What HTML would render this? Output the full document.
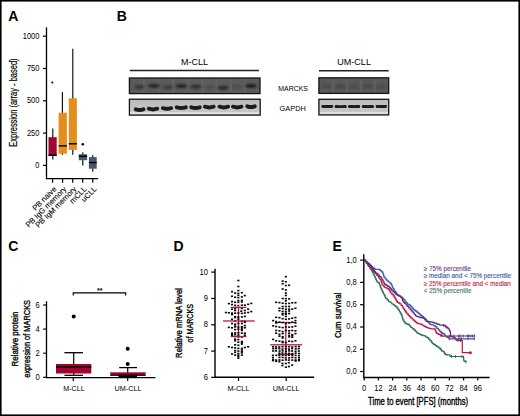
<!DOCTYPE html>
<html><head><meta charset="utf-8">
<style>
html,body{margin:0;padding:0;background:#fff;}
body{width:520px;height:416px;overflow:hidden;position:relative;}
svg{display:block;position:absolute;left:0;top:0;}
text{font-family:"Liberation Sans",sans-serif;}
.sb{stroke:#000;stroke-width:0.35px;}
.sb2{stroke-width:0.12px;}
</style></head>
<body>
<svg width="520" height="416" viewBox="0 0 520 416">
<rect x="0" y="0" width="520" height="416" fill="#fff"/>
<!-- outer border -->
<rect x="0.8" y="0.8" width="518.4" height="414.4" fill="none" stroke="#000" stroke-width="1.6"/>

<!-- panel letters -->
<g font-weight="bold" font-size="14" fill="#000">
<text x="8.2" y="20.9">A</text>
<text x="116.8" y="20.9">B</text>
<text x="8.2" y="251">C</text>
<text x="173.5" y="250.8">D</text>
<text x="332.6" y="250.7">E</text>
</g>

<!-- ===== Panel A ===== -->
<g id="pA">
<line x1="46.5" y1="27.3" x2="46.5" y2="179.2" stroke="#000" stroke-width="1.3"/>
<line x1="45.9" y1="178.6" x2="98.2" y2="178.6" stroke="#000" stroke-width="1.3"/>
<g stroke="#000" stroke-width="1.2">
<line x1="43" y1="36.2" x2="46.5" y2="36.2"/>
<line x1="43" y1="68.5" x2="46.5" y2="68.5"/>
<line x1="43" y1="100.8" x2="46.5" y2="100.8"/>
<line x1="43" y1="133.1" x2="46.5" y2="133.1"/>
<line x1="43" y1="165.4" x2="46.5" y2="165.4"/>
<line x1="52.6" y1="178.6" x2="52.6" y2="182.7"/>
<line x1="62.6" y1="178.6" x2="62.6" y2="182.7"/>
<line x1="72.7" y1="178.6" x2="72.7" y2="182.7"/>
<line x1="82.7" y1="178.6" x2="82.7" y2="182.7"/>
<line x1="92.8" y1="178.6" x2="92.8" y2="182.7"/>
</g>
<g font-size="8.3" text-anchor="end" fill="#000" transform="translate(39.4,0) scale(0.9,1) translate(-39.4,0)">
<text x="39.4" y="38.7">1000</text>
<text x="39.4" y="71">750</text>
<text x="39.4" y="103.3">500</text>
<text x="39.4" y="135.6">250</text>
<text x="39.4" y="167.9">0</text>
</g>
<text transform="translate(17,146.7) rotate(-90)" font-size="10" stroke="#000" stroke-width="0.18" textLength="88.3" lengthAdjust="spacingAndGlyphs">Expression (array - based)</text>
<!-- whiskers -->
<g stroke="#000" stroke-width="1.1">
<line x1="52.8" y1="128.5" x2="52.8" y2="159.5"/>
<line x1="62.4" y1="91.9" x2="62.4" y2="154.7"/>
<line x1="72.8" y1="48.7" x2="72.8" y2="154.7"/>
<line x1="82.8" y1="152.3" x2="82.8" y2="165.6"/>
<line x1="92.8" y1="155" x2="92.8" y2="171.8"/>
</g>
<!-- boxes -->
<rect x="48.5" y="137.2" width="8.2" height="18.7" fill="#a3032f"/>
<rect x="58.6" y="112.7" width="8.3" height="41" fill="#e38e1e"/>
<rect x="68.8" y="98.3" width="8.1" height="51.6" fill="#e38e1e"/>
<rect x="78.8" y="154.2" width="8.3" height="6" fill="#4c5570"/>
<rect x="88.9" y="157.1" width="7.8" height="11.6" fill="#4c5570"/>
<!-- medians -->
<g stroke="#000" stroke-width="1.4">
<line x1="48.5" y1="155.2" x2="56.7" y2="155.2"/>
<line x1="58.6" y1="145.9" x2="66.9" y2="145.9"/>
<line x1="68.8" y1="143.8" x2="76.9" y2="143.8"/>
<line x1="78.8" y1="156.3" x2="87.1" y2="156.3"/>
<line x1="88.9" y1="162.6" x2="96.7" y2="162.6"/>
</g>
<circle cx="52.3" cy="82.4" r="1" fill="#000"/>
<circle cx="82.8" cy="144.2" r="1.3" fill="#000"/>
<!-- x labels -->
<g font-size="7.6" text-anchor="end" fill="#000" stroke="#000" stroke-width="0.1">
<text transform="translate(56.9,189.6) rotate(-45)">PB naive</text>
<text transform="translate(66.9,189.6) rotate(-45)">PB IgG memory</text>
<text transform="translate(77,189.6) rotate(-45)">PB IgM memory</text>
<text transform="translate(87,189.6) rotate(-45)">mCLL</text>
<text transform="translate(97.1,189.6) rotate(-45)">uCLL</text>
</g>
</g>

<!-- ===== Panel B ===== -->
<g id="pB">
<text x="181" y="64.9" font-size="9.2" textLength="27" lengthAdjust="spacingAndGlyphs">M-CLL</text>
<text x="337.3" y="65.2" font-size="9.2" textLength="33.6" lengthAdjust="spacingAndGlyphs">UM-CLL</text>
<line x1="129.8" y1="70.6" x2="258.9" y2="70.6" stroke="#222" stroke-width="1.5"/>
<line x1="319" y1="70.8" x2="388.7" y2="70.8" stroke="#222" stroke-width="1.5"/>
<text x="278.2" y="90.6" font-size="7.6" textLength="29.8" lengthAdjust="spacingAndGlyphs">MARCKS</text>
<text x="279.6" y="111.3" font-size="7.6" textLength="26.2" lengthAdjust="spacingAndGlyphs">GAPDH</text>
<g id="blots"><defs><filter id="bl1" x="-20%" y="-60%" width="140%" height="220%"><feGaussianBlur stdDeviation="0.85"/></filter><filter id="bl2" x="-20%" y="-60%" width="140%" height="220%"><feGaussianBlur stdDeviation="0.65"/></filter><filter id="bl3" x="-5%" y="-5%" width="110%" height="110%"><feGaussianBlur stdDeviation="0.6"/></filter><linearGradient id="gg" x1="0" y1="0" x2="0" y2="1"><stop offset="0" stop-color="#bcbcbc"/><stop offset="1" stop-color="#c8c8c8"/></linearGradient></defs>
<rect x="129.4" y="78.0" width="130.6" height="15.599999999999994" fill="#5b5b5b"/>
<g filter="url(#bl3)" fill="#7a7a7a" opacity="0.35"><rect x="143.1" y="79.5" width="1.6" height="12.599999999999994"/><rect x="157.6" y="79.5" width="1.6" height="12.599999999999994"/><rect x="172.1" y="79.5" width="1.6" height="12.599999999999994"/><rect x="186.6" y="79.5" width="1.6" height="12.599999999999994"/><rect x="201.2" y="79.5" width="1.6" height="12.599999999999994"/><rect x="215.7" y="79.5" width="1.6" height="12.599999999999994"/><rect x="230.2" y="79.5" width="1.6" height="12.599999999999994"/><rect x="244.7" y="79.5" width="1.6" height="12.599999999999994"/></g>
<g filter="url(#bl1)" fill="#1c1c1c"><ellipse cx="139.5" cy="87" rx="5.2" ry="1.9" opacity="0.55"/><ellipse cx="154" cy="85.9" rx="6" ry="1.9" opacity="0.9"/><ellipse cx="168" cy="87.2" rx="5" ry="1.9" opacity="0.5"/><ellipse cx="181.5" cy="86" rx="6" ry="1.9" opacity="0.9"/><ellipse cx="196" cy="86.6" rx="5.6" ry="1.9" opacity="0.75"/><ellipse cx="210" cy="87" rx="5" ry="1.9" opacity="0.15"/><ellipse cx="223" cy="87.6" rx="5.6" ry="1.9" opacity="0.85"/><ellipse cx="237" cy="87" rx="5" ry="1.9" opacity="0.22"/><ellipse cx="251" cy="86" rx="6" ry="1.9" opacity="1.0"/></g>
<rect x="129.4" y="78.0" width="130.6" height="15.599999999999994" fill="none" stroke="#151515" stroke-width="1.3"/>
<rect x="129.4" y="99.2" width="130.79999999999998" height="15.899999999999991" fill="url(#gg)"/>
<rect x="129.4" y="112.1" width="130.79999999999998" height="2.2" fill="#dedede" filter="url(#bl3)"/>
<g filter="url(#bl2)" fill="#1c1c1c"><path d="M135.8,109.4 Q139.6,110.8 143.4,109.4" fill="none" stroke="#1c1c1c" stroke-width="4.0" stroke-linecap="round"/><path d="M148.8,108.7 Q153.0,110.1 157.2,108.7" fill="none" stroke="#1c1c1c" stroke-width="4.0" stroke-linecap="round"/><path d="M162.9,108.2 Q167.0,109.5 171.1,108.2" fill="none" stroke="#1c1c1c" stroke-width="4.0" stroke-linecap="round"/><path d="M176.8,107.3 Q181.3,108.7 185.8,107.3" fill="none" stroke="#1c1c1c" stroke-width="4.0" stroke-linecap="round"/><path d="M191.3,107.4 Q195.5,108.7 199.7,107.4" fill="none" stroke="#1c1c1c" stroke-width="4.0" stroke-linecap="round"/><path d="M205.0,106.7 Q209.3,108.1 213.6,106.7" fill="none" stroke="#1c1c1c" stroke-width="4.0" stroke-linecap="round"/><path d="M219.5,106.7 Q223.8,108.1 228.1,106.7" fill="none" stroke="#1c1c1c" stroke-width="4.0" stroke-linecap="round"/><path d="M233.0,106.7 Q237.2,108.1 241.4,106.7" fill="none" stroke="#1c1c1c" stroke-width="4.0" stroke-linecap="round"/><path d="M247.3,106.3 Q251.0,107.7 254.7,106.3" fill="none" stroke="#1c1c1c" stroke-width="4.0" stroke-linecap="round"/></g>
<rect x="129.4" y="99.2" width="130.79999999999998" height="15.899999999999991" fill="none" stroke="#151515" stroke-width="1.3"/>
<rect x="318.9" y="77.8" width="69.80000000000001" height="15.600000000000009" fill="#585858"/>
<g filter="url(#bl3)" fill="#777" opacity="0.3"><rect x="332.1" y="79.3" width="1.6" height="12.600000000000009"/><rect x="346.0" y="79.3" width="1.6" height="12.600000000000009"/><rect x="360.0" y="79.3" width="1.6" height="12.600000000000009"/><rect x="373.9" y="79.3" width="1.6" height="12.600000000000009"/></g>
<g filter="url(#bl1)" fill="#2a2a2a"><ellipse cx="326.5" cy="86.3" rx="5" ry="1.8" opacity="0.35"/><ellipse cx="340.5" cy="86.3" rx="5" ry="1.8" opacity="0.45"/><ellipse cx="354" cy="86.5" rx="5" ry="1.8" opacity="0.3"/><ellipse cx="368" cy="86" rx="5" ry="1.8" opacity="0.45"/><ellipse cx="381.5" cy="86.5" rx="5" ry="1.8" opacity="0.3"/></g>
<rect x="318.9" y="77.8" width="69.80000000000001" height="15.600000000000009" fill="none" stroke="#151515" stroke-width="1.3"/>
<rect x="318.9" y="99.3" width="69.80000000000001" height="15.600000000000009" fill="url(#gg)"/>
<rect x="318.9" y="111.9" width="69.80000000000001" height="2.2" fill="#dedede" filter="url(#bl3)"/>
<g filter="url(#bl2)" fill="#1c1c1c"><path d="M323.4,106.3 Q327.3,107.7 331.2,106.3" fill="none" stroke="#1c1c1c" stroke-width="4.0" stroke-linecap="round"/><path d="M336.7,106.6 Q340.7,108.1 344.7,106.6" fill="none" stroke="#1c1c1c" stroke-width="4.0" stroke-linecap="round"/><path d="M350.1,106.4 Q354.1,107.9 358.1,106.4" fill="none" stroke="#1c1c1c" stroke-width="4.0" stroke-linecap="round"/><path d="M363.9,106.4 Q367.9,107.9 371.9,106.4" fill="none" stroke="#1c1c1c" stroke-width="4.0" stroke-linecap="round"/><path d="M377.6,106.3 Q381.3,107.8 385.0,106.3" fill="none" stroke="#1c1c1c" stroke-width="4.0" stroke-linecap="round"/></g>
<rect x="318.9" y="99.3" width="69.80000000000001" height="15.600000000000009" fill="none" stroke="#151515" stroke-width="1.3"/></g><!--endblots-->
</g>

<!-- ===== Panel C ===== -->
<g id="pC">
<line x1="46.5" y1="301.3" x2="46.5" y2="378.2" stroke="#000" stroke-width="1.3"/>
<line x1="45.9" y1="377.6" x2="155.5" y2="377.6" stroke="#000" stroke-width="1.3"/>
<g stroke="#000" stroke-width="1.2">
<line x1="43.2" y1="305" x2="46.5" y2="305"/>
<line x1="43.2" y1="329.1" x2="46.5" y2="329.1"/>
<line x1="43.2" y1="353.2" x2="46.5" y2="353.2"/>
<line x1="43.2" y1="377.3" x2="46.5" y2="377.3"/>
<line x1="73.3" y1="377.6" x2="73.3" y2="381"/>
<line x1="127.7" y1="377.6" x2="127.7" y2="381"/>
</g>
<g font-size="8.4" text-anchor="end" fill="#000" transform="translate(39.6,0) scale(0.9,1) translate(-39.6,0)">
<text x="39.6" y="307.6">6</text>
<text x="39.6" y="331.7">4</text>
<text x="39.6" y="355.8">2</text>
<text x="39.6" y="379.9">0</text>
</g>
<text class="sb" transform="translate(17.5,366.5) rotate(-90)" font-size="9.6" textLength="55" lengthAdjust="spacingAndGlyphs">Relative protein</text>
<text class="sb" transform="translate(29.5,377.7) rotate(-90)" font-size="9.6" textLength="77.7" lengthAdjust="spacingAndGlyphs">expression of MARCKS</text>
<!-- bracket -->
<path d="M73.3 295.5 V292.8 H125.6 V295.5" fill="none" stroke="#000" stroke-width="1.2"/>
<text x="99.7" y="292.6" font-size="7" font-weight="bold" text-anchor="middle">**</text>
<!-- M-CLL box -->
<line x1="73.7" y1="352.7" x2="73.7" y2="375.2" stroke="#000" stroke-width="1.2"/>
<line x1="64.4" y1="352.7" x2="83" y2="352.7" stroke="#000" stroke-width="1.3"/>
<rect x="56" y="364" width="35.3" height="9.5" fill="#a3032f"/>
<line x1="56" y1="367" x2="91.3" y2="367" stroke="#000" stroke-width="1.7"/>
<line x1="64.4" y1="375.3" x2="83" y2="375.3" stroke="#000" stroke-width="1.3"/>
<circle cx="73.7" cy="316.4" r="2" fill="#000"/>
<!-- UM-CLL box -->
<circle cx="127.7" cy="348.8" r="2" fill="#000"/>
<circle cx="127.7" cy="364" r="2" fill="#000"/>
<line x1="127.7" y1="367.6" x2="127.7" y2="376" stroke="#000" stroke-width="1.2"/>
<line x1="119.2" y1="367.6" x2="137" y2="367.6" stroke="#000" stroke-width="1.3"/>
<rect x="110.3" y="372.3" width="35.3" height="3.4" fill="#a3032f"/>
<rect x="118.5" y="374.7" width="18.5" height="2.8" fill="#000"/>
<line x1="110.3" y1="375.2" x2="145.6" y2="375.2" stroke="#000" stroke-width="1"/>
<g font-size="7.8" fill="#000">
<text x="63.2" y="390.8" textLength="21.6" lengthAdjust="spacingAndGlyphs">M-CLL</text>
<text x="114.6" y="390.8" textLength="26.9" lengthAdjust="spacingAndGlyphs">UM-CLL</text>
</g>
</g>

<!-- ===== Panel D ===== -->
<g id="pD">
<line x1="215" y1="268.7" x2="215" y2="378" stroke="#000" stroke-width="1.4"/>
<line x1="214.3" y1="377.3" x2="314.2" y2="377.3" stroke="#000" stroke-width="1.4"/>
<g stroke="#000" stroke-width="1.2">
<line x1="211.2" y1="272.1" x2="215" y2="272.1"/>
<line x1="211.2" y1="298.5" x2="215" y2="298.5"/>
<line x1="211.2" y1="324.8" x2="215" y2="324.8"/>
<line x1="211.2" y1="351.1" x2="215" y2="351.1"/>
<line x1="211.2" y1="377.4" x2="215" y2="377.4"/>
<line x1="238.5" y1="377.3" x2="238.5" y2="381"/>
<line x1="286.2" y1="377.3" x2="286.2" y2="381"/>
</g>
<g font-size="8.4" text-anchor="end" fill="#000" transform="translate(208,0) scale(0.9,1) translate(-208,0)">
<text x="208" y="274.9">10</text>
<text x="208" y="301.2">9</text>
<text x="208" y="327.5">8</text>
<text x="208" y="353.8">7</text>
<text x="208" y="380.1">6</text>
</g>
<text class="sb" transform="translate(181.7,357.9) rotate(-90)" font-size="9.4" textLength="69.8" lengthAdjust="spacingAndGlyphs">Relative mRNA level</text>
<text class="sb" transform="translate(193.4,342.5) rotate(-90)" font-size="9.4" textLength="38.5" lengthAdjust="spacingAndGlyphs">of MARCKS</text>
<g font-size="7.8" fill="#000">
<text x="227.5" y="390.6" textLength="22" lengthAdjust="spacingAndGlyphs">M-CLL</text>
<text x="272.7" y="390.6" textLength="26.8" lengthAdjust="spacingAndGlyphs">UM-CLL</text>
</g>
<g stroke="#b5173f" stroke-width="1.3">
<line x1="276" y1="322.5" x2="295.4" y2="322.5"/>
<line x1="278.5" y1="354.3" x2="293.8" y2="354.3"/>
<line x1="285.8" y1="322.5" x2="285.8" y2="354.3"/>
<line x1="238.5" y1="307.4" x2="238.5" y2="336.5"/>
</g>
<g id="dots" fill="#000"><rect x="237.3" y="279.7" width="2.1" height="1.6"/><rect x="237.3" y="285.7" width="2.1" height="1.6"/><rect x="237.3" y="289.8" width="2.1" height="1.6"/><rect x="231.0" y="290.9" width="2.1" height="1.6"/><rect x="234.1" y="292.3" width="2.1" height="1.6"/><rect x="237.3" y="292.6" width="2.1" height="1.6"/><rect x="240.8" y="291.9" width="2.1" height="1.6"/><rect x="237.3" y="294.5" width="2.1" height="1.6"/><rect x="231.0" y="295.5" width="2.1" height="1.6"/><rect x="234.1" y="296.5" width="2.1" height="1.6"/><rect x="237.3" y="296.8" width="2.1" height="1.6"/><rect x="240.8" y="296.1" width="2.1" height="1.6"/><rect x="243.8" y="294.8" width="2.1" height="1.6"/><rect x="237.3" y="299.7" width="2.1" height="1.6"/><rect x="240.8" y="299.6" width="2.1" height="1.6"/><rect x="231.0" y="300.8" width="2.1" height="1.6"/><rect x="234.1" y="301.5" width="2.1" height="1.6"/><rect x="237.3" y="301.5" width="2.1" height="1.6"/><rect x="240.8" y="301.2" width="2.1" height="1.6"/><rect x="227.8" y="302.8" width="2.1" height="1.6"/><rect x="231.0" y="303.7" width="2.1" height="1.6"/><rect x="234.1" y="304.6" width="2.1" height="1.6"/><rect x="237.3" y="304.8" width="2.1" height="1.6"/><rect x="240.8" y="304.4" width="2.1" height="1.6"/><rect x="243.8" y="304.4" width="2.1" height="1.6"/><rect x="247.1" y="303.5" width="2.1" height="1.6"/><rect x="250.2" y="302.6" width="2.1" height="1.6"/><rect x="231.0" y="308.4" width="2.1" height="1.6"/><rect x="234.1" y="307.9" width="2.1" height="1.6"/><rect x="240.8" y="307.7" width="2.1" height="1.6"/><rect x="247.1" y="308.4" width="2.1" height="1.6"/><rect x="234.1" y="309.7" width="2.1" height="1.6"/><rect x="240.2" y="310.4" width="2.1" height="1.6"/><rect x="243.8" y="309.7" width="2.1" height="1.6"/><rect x="224.8" y="311.7" width="2.1" height="1.6"/><rect x="227.8" y="312.0" width="2.1" height="1.6"/><rect x="231.0" y="312.4" width="2.1" height="1.6"/><rect x="231.0" y="313.7" width="2.1" height="1.6"/><rect x="234.1" y="312.4" width="2.1" height="1.6"/><rect x="237.3" y="312.2" width="2.1" height="1.6"/><rect x="240.8" y="312.6" width="2.1" height="1.6"/><rect x="243.8" y="312.2" width="2.1" height="1.6"/><rect x="247.1" y="311.7" width="2.1" height="1.6"/><rect x="250.2" y="310.8" width="2.1" height="1.6"/><rect x="234.1" y="315.8" width="2.1" height="1.6"/><rect x="234.1" y="316.8" width="2.1" height="1.6"/><rect x="237.3" y="316.2" width="2.1" height="1.6"/><rect x="240.8" y="316.2" width="2.1" height="1.6"/><rect x="243.8" y="315.6" width="2.1" height="1.6"/><rect x="231.0" y="318.5" width="2.1" height="1.6"/><rect x="237.3" y="318.3" width="2.1" height="1.6"/><rect x="234.1" y="320.2" width="2.1" height="1.6"/><rect x="240.8" y="320.5" width="2.1" height="1.6"/><rect x="243.8" y="320.5" width="2.1" height="1.6"/><rect x="243.8" y="321.5" width="2.1" height="1.6"/><rect x="231.0" y="322.7" width="2.1" height="1.6"/><rect x="234.1" y="323.4" width="2.1" height="1.6"/><rect x="237.3" y="322.7" width="2.1" height="1.6"/><rect x="240.8" y="322.7" width="2.1" height="1.6"/><rect x="234.1" y="325.2" width="2.1" height="1.6"/><rect x="243.8" y="324.8" width="2.1" height="1.6"/><rect x="227.8" y="326.6" width="2.1" height="1.6"/><rect x="231.0" y="327.0" width="2.1" height="1.6"/><rect x="234.1" y="326.1" width="2.1" height="1.6"/><rect x="237.3" y="326.3" width="2.1" height="1.6"/><rect x="240.8" y="325.9" width="2.1" height="1.6"/><rect x="240.8" y="327.2" width="2.1" height="1.6"/><rect x="243.8" y="327.0" width="2.1" height="1.6"/><rect x="234.1" y="328.8" width="2.1" height="1.6"/><rect x="237.3" y="328.4" width="2.1" height="1.6"/><rect x="240.8" y="328.5" width="2.1" height="1.6"/><rect x="240.8" y="329.7" width="2.1" height="1.6"/><rect x="231.0" y="332.4" width="2.1" height="1.6"/><rect x="234.1" y="332.0" width="2.1" height="1.6"/><rect x="237.3" y="332.0" width="2.1" height="1.6"/><rect x="240.8" y="332.4" width="2.1" height="1.6"/><rect x="243.8" y="332.4" width="2.1" height="1.6"/><rect x="231.0" y="333.7" width="2.1" height="1.6"/><rect x="231.0" y="334.8" width="2.1" height="1.6"/><rect x="234.1" y="333.7" width="2.1" height="1.6"/><rect x="243.8" y="334.4" width="2.1" height="1.6"/><rect x="237.3" y="334.2" width="2.1" height="1.6"/><rect x="234.1" y="335.7" width="2.1" height="1.6"/><rect x="237.3" y="336.2" width="2.1" height="1.6"/><rect x="240.8" y="336.2" width="2.1" height="1.6"/><rect x="234.1" y="338.4" width="2.1" height="1.6"/><rect x="234.1" y="339.9" width="2.1" height="1.6"/><rect x="237.3" y="338.8" width="2.1" height="1.6"/><rect x="237.3" y="341.4" width="2.1" height="1.6"/><rect x="240.8" y="340.7" width="2.1" height="1.6"/><rect x="240.8" y="342.0" width="2.1" height="1.6"/><rect x="240.8" y="343.3" width="2.1" height="1.6"/><rect x="234.1" y="344.0" width="2.1" height="1.6"/><rect x="237.3" y="344.5" width="2.1" height="1.6"/><rect x="227.8" y="346.0" width="2.1" height="1.6"/><rect x="231.0" y="346.7" width="2.1" height="1.6"/><rect x="234.1" y="347.1" width="2.1" height="1.6"/><rect x="237.3" y="347.6" width="2.1" height="1.6"/><rect x="240.8" y="347.6" width="2.1" height="1.6"/><rect x="243.8" y="346.7" width="2.1" height="1.6"/><rect x="247.1" y="346.0" width="2.1" height="1.6"/><rect x="234.1" y="349.8" width="2.1" height="1.6"/><rect x="237.3" y="350.3" width="2.1" height="1.6"/><rect x="240.8" y="349.2" width="2.1" height="1.6"/><rect x="240.8" y="350.7" width="2.1" height="1.6"/><rect x="234.1" y="351.6" width="2.1" height="1.6"/><rect x="240.8" y="352.1" width="2.1" height="1.6"/><rect x="231.0" y="353.2" width="2.1" height="1.6"/><rect x="237.3" y="352.7" width="2.1" height="1.6"/><rect x="234.1" y="354.3" width="2.1" height="1.6"/><rect x="237.3" y="354.3" width="2.1" height="1.6"/><rect x="240.8" y="354.3" width="2.1" height="1.6"/><rect x="237.3" y="355.8" width="2.1" height="1.6"/><rect x="237.3" y="357.3" width="2.1" height="1.6"/><rect x="284.8" y="275.9" width="2.1" height="1.6"/><rect x="281.6" y="280.3" width="2.1" height="1.6"/><rect x="284.8" y="281.0" width="2.1" height="1.6"/><rect x="281.6" y="282.9" width="2.1" height="1.6"/><rect x="284.8" y="284.7" width="2.1" height="1.6"/><rect x="288.1" y="284.5" width="2.1" height="1.6"/><rect x="281.6" y="288.2" width="2.1" height="1.6"/><rect x="284.8" y="289.2" width="2.1" height="1.6"/><rect x="284.8" y="292.3" width="2.1" height="1.6"/><rect x="284.8" y="294.7" width="2.1" height="1.6"/><rect x="281.6" y="297.7" width="2.1" height="1.6"/><rect x="284.8" y="297.9" width="2.1" height="1.6"/><rect x="288.1" y="298.1" width="2.1" height="1.6"/><rect x="284.8" y="300.0" width="2.1" height="1.6"/><rect x="275.1" y="301.5" width="2.1" height="1.6"/><rect x="278.4" y="301.8" width="2.1" height="1.6"/><rect x="281.6" y="302.4" width="2.1" height="1.6"/><rect x="284.8" y="302.8" width="2.1" height="1.6"/><rect x="288.1" y="302.6" width="2.1" height="1.6"/><rect x="291.2" y="302.0" width="2.1" height="1.6"/><rect x="294.4" y="301.9" width="2.1" height="1.6"/><rect x="281.6" y="305.7" width="2.1" height="1.6"/><rect x="284.8" y="305.7" width="2.1" height="1.6"/><rect x="288.1" y="305.7" width="2.1" height="1.6"/><rect x="278.4" y="307.5" width="2.1" height="1.6"/><rect x="281.6" y="307.8" width="2.1" height="1.6"/><rect x="284.8" y="308.4" width="2.1" height="1.6"/><rect x="288.1" y="308.4" width="2.1" height="1.6"/><rect x="291.2" y="308.3" width="2.1" height="1.6"/><rect x="294.4" y="307.5" width="2.1" height="1.6"/><rect x="278.4" y="309.9" width="2.1" height="1.6"/><rect x="281.6" y="310.6" width="2.1" height="1.6"/><rect x="284.8" y="310.6" width="2.1" height="1.6"/><rect x="288.1" y="310.2" width="2.1" height="1.6"/><rect x="281.6" y="312.7" width="2.1" height="1.6"/><rect x="281.6" y="314.0" width="2.1" height="1.6"/><rect x="284.8" y="312.4" width="2.1" height="1.6"/><rect x="284.8" y="313.4" width="2.1" height="1.6"/><rect x="288.1" y="312.7" width="2.1" height="1.6"/><rect x="284.8" y="315.6" width="2.1" height="1.6"/><rect x="275.1" y="316.5" width="2.1" height="1.6"/><rect x="278.4" y="316.9" width="2.1" height="1.6"/><rect x="281.6" y="317.9" width="2.1" height="1.6"/><rect x="284.8" y="318.5" width="2.1" height="1.6"/><rect x="288.1" y="318.1" width="2.1" height="1.6"/><rect x="291.2" y="317.4" width="2.1" height="1.6"/><rect x="294.4" y="316.7" width="2.1" height="1.6"/><rect x="272.1" y="319.8" width="2.1" height="1.6"/><rect x="275.1" y="320.8" width="2.1" height="1.6"/><rect x="275.1" y="322.1" width="2.1" height="1.6"/><rect x="278.4" y="321.4" width="2.1" height="1.6"/><rect x="281.6" y="321.7" width="2.1" height="1.6"/><rect x="284.8" y="322.8" width="2.1" height="1.6"/><rect x="288.1" y="322.1" width="2.1" height="1.6"/><rect x="291.2" y="321.4" width="2.1" height="1.6"/><rect x="294.4" y="319.8" width="2.1" height="1.6"/><rect x="294.4" y="322.1" width="2.1" height="1.6"/><rect x="272.1" y="325.0" width="2.1" height="1.6"/><rect x="275.1" y="325.7" width="2.1" height="1.6"/><rect x="278.4" y="326.3" width="2.1" height="1.6"/><rect x="281.6" y="326.8" width="2.1" height="1.6"/><rect x="284.8" y="326.1" width="2.1" height="1.6"/><rect x="288.1" y="326.4" width="2.1" height="1.6"/><rect x="291.2" y="326.1" width="2.1" height="1.6"/><rect x="294.4" y="325.4" width="2.1" height="1.6"/><rect x="275.1" y="329.7" width="2.1" height="1.6"/><rect x="278.4" y="330.0" width="2.1" height="1.6"/><rect x="281.6" y="330.8" width="2.1" height="1.6"/><rect x="284.8" y="329.7" width="2.1" height="1.6"/><rect x="288.1" y="330.0" width="2.1" height="1.6"/><rect x="291.2" y="329.7" width="2.1" height="1.6"/><rect x="294.4" y="330.0" width="2.1" height="1.6"/><rect x="275.1" y="332.4" width="2.1" height="1.6"/><rect x="281.6" y="332.8" width="2.1" height="1.6"/><rect x="288.1" y="332.4" width="2.1" height="1.6"/><rect x="294.4" y="332.8" width="2.1" height="1.6"/><rect x="278.4" y="333.5" width="2.1" height="1.6"/><rect x="291.2" y="333.9" width="2.1" height="1.6"/><rect x="278.4" y="335.3" width="2.1" height="1.6"/><rect x="281.6" y="336.0" width="2.1" height="1.6"/><rect x="281.6" y="337.2" width="2.1" height="1.6"/><rect x="288.1" y="334.6" width="2.1" height="1.6"/><rect x="288.1" y="336.0" width="2.1" height="1.6"/><rect x="291.2" y="335.0" width="2.1" height="1.6"/><rect x="291.2" y="336.4" width="2.1" height="1.6"/><rect x="272.1" y="338.6" width="2.1" height="1.6"/><rect x="275.1" y="340.0" width="2.1" height="1.6"/><rect x="278.4" y="340.4" width="2.1" height="1.6"/><rect x="281.6" y="340.7" width="2.1" height="1.6"/><rect x="281.6" y="341.8" width="2.1" height="1.6"/><rect x="288.1" y="340.4" width="2.1" height="1.6"/><rect x="291.2" y="340.7" width="2.1" height="1.6"/><rect x="294.4" y="340.0" width="2.1" height="1.6"/><rect x="284.8" y="341.7" width="2.1" height="1.6"/><rect x="271.9" y="359.8" width="2.1" height="1.6"/><rect x="275.1" y="360.5" width="2.1" height="1.6"/><rect x="278.3" y="360.9" width="2.1" height="1.6"/><rect x="294.6" y="360.2" width="2.1" height="1.6"/><rect x="297.9" y="359.8" width="2.1" height="1.6"/><rect x="281.4" y="362.6" width="2.1" height="1.6"/><rect x="284.8" y="362.7" width="2.1" height="1.6"/><rect x="287.8" y="361.9" width="2.1" height="1.6"/><rect x="291.1" y="364.3" width="2.1" height="1.6"/><rect x="281.4" y="364.7" width="2.1" height="1.6"/><rect x="284.8" y="366.4" width="2.1" height="1.6"/><rect x="287.8" y="365.7" width="2.1" height="1.6"/><rect x="272.0" y="346.0" width="2.1" height="1.6"/><rect x="275.0" y="346.2" width="2.1" height="1.6"/><rect x="278.2" y="346.2" width="2.1" height="1.6"/><rect x="281.5" y="345.9" width="2.1" height="1.6"/><rect x="284.8" y="345.7" width="2.1" height="1.6"/><rect x="288.0" y="345.9" width="2.1" height="1.6"/><rect x="291.2" y="346.2" width="2.1" height="1.6"/><rect x="294.6" y="345.9" width="2.1" height="1.6"/><rect x="297.9" y="345.7" width="2.1" height="1.6"/><rect x="272.2" y="347.9" width="2.1" height="1.6"/><rect x="275.1" y="347.8" width="2.1" height="1.6"/><rect x="278.3" y="347.9" width="2.1" height="1.6"/><rect x="281.4" y="348.3" width="2.1" height="1.6"/><rect x="284.7" y="347.9" width="2.1" height="1.6"/><rect x="287.9" y="348.3" width="2.1" height="1.6"/><rect x="291.1" y="347.8" width="2.1" height="1.6"/><rect x="294.7" y="348.1" width="2.1" height="1.6"/><rect x="297.7" y="347.8" width="2.1" height="1.6"/><rect x="272.1" y="350.2" width="2.1" height="1.6"/><rect x="275.0" y="350.1" width="2.1" height="1.6"/><rect x="278.5" y="350.3" width="2.1" height="1.6"/><rect x="281.6" y="350.1" width="2.1" height="1.6"/><rect x="284.9" y="350.5" width="2.1" height="1.6"/><rect x="288.1" y="350.1" width="2.1" height="1.6"/><rect x="291.0" y="350.2" width="2.1" height="1.6"/><rect x="294.5" y="350.5" width="2.1" height="1.6"/><rect x="297.8" y="350.2" width="2.1" height="1.6"/><rect x="278.3" y="352.4" width="2.1" height="1.6"/><rect x="281.4" y="352.2" width="2.1" height="1.6"/><rect x="284.7" y="352.7" width="2.1" height="1.6"/><rect x="288.0" y="352.6" width="2.1" height="1.6"/><rect x="291.3" y="352.8" width="2.1" height="1.6"/><rect x="294.6" y="352.3" width="2.1" height="1.6"/><rect x="298.0" y="352.7" width="2.1" height="1.6"/><rect x="271.9" y="354.6" width="2.1" height="1.6"/><rect x="275.3" y="354.5" width="2.1" height="1.6"/><rect x="278.3" y="354.4" width="2.1" height="1.6"/><rect x="281.6" y="354.5" width="2.1" height="1.6"/><rect x="284.7" y="354.8" width="2.1" height="1.6"/><rect x="287.8" y="354.5" width="2.1" height="1.6"/><rect x="291.2" y="354.6" width="2.1" height="1.6"/><rect x="294.5" y="354.5" width="2.1" height="1.6"/><rect x="297.8" y="354.9" width="2.1" height="1.6"/><rect x="271.9" y="356.9" width="2.1" height="1.6"/><rect x="278.4" y="356.6" width="2.1" height="1.6"/><rect x="281.6" y="356.7" width="2.1" height="1.6"/><rect x="284.7" y="357.1" width="2.1" height="1.6"/><rect x="288.1" y="357.1" width="2.1" height="1.6"/><rect x="291.3" y="356.7" width="2.1" height="1.6"/><rect x="294.5" y="356.9" width="2.1" height="1.6"/><rect x="297.9" y="357.0" width="2.1" height="1.6"/><rect x="272.1" y="359.0" width="2.1" height="1.6"/><rect x="275.1" y="359.3" width="2.1" height="1.6"/><rect x="278.4" y="359.2" width="2.1" height="1.6"/><rect x="281.5" y="359.4" width="2.1" height="1.6"/><rect x="284.8" y="359.1" width="2.1" height="1.6"/><rect x="287.8" y="359.3" width="2.1" height="1.6"/><rect x="291.2" y="359.3" width="2.1" height="1.6"/><rect x="294.5" y="359.2" width="2.1" height="1.6"/><rect x="297.9" y="359.0" width="2.1" height="1.6"/></g>
<g stroke="#b5173f" stroke-width="1.3">
<line x1="223" y1="321" x2="254.6" y2="321"/>
<line x1="230.8" y1="307.4" x2="246.5" y2="307.4"/>
<line x1="230.8" y1="336.5" x2="246.5" y2="336.5"/>
<line x1="270.3" y1="344.8" x2="302" y2="344.8"/>
</g>

</g>

<!-- ===== Panel E ===== -->
<g id="pE">
<line x1="363.8" y1="254.2" x2="363.8" y2="377.9" stroke="#000" stroke-width="1.4"/>
<line x1="363.1" y1="377.5" x2="489.6" y2="377.5" stroke="#000" stroke-width="1.4"/>
<g stroke="#000" stroke-width="1.2">
<line x1="360.1" y1="260.1" x2="363.8" y2="260.1"/>
<line x1="360.1" y1="282.4" x2="363.8" y2="282.4"/>
<line x1="360.1" y1="304.7" x2="363.8" y2="304.7"/>
<line x1="360.1" y1="327" x2="363.8" y2="327"/>
<line x1="360.1" y1="349.3" x2="363.8" y2="349.3"/>
<line x1="360.1" y1="371.5" x2="363.8" y2="371.5"/>
<line x1="364.2" y1="377.5" x2="364.2" y2="380.6"/>
<line x1="378.4" y1="377.5" x2="378.4" y2="380.6"/>
<line x1="392.6" y1="377.5" x2="392.6" y2="380.6"/>
<line x1="406.8" y1="377.5" x2="406.8" y2="380.6"/>
<line x1="421" y1="377.5" x2="421" y2="380.6"/>
<line x1="435.2" y1="377.5" x2="435.2" y2="380.6"/>
<line x1="449.4" y1="377.5" x2="449.4" y2="380.6"/>
<line x1="463.6" y1="377.5" x2="463.6" y2="380.6"/>
<line x1="477.8" y1="377.5" x2="477.8" y2="380.6"/>
</g>
<g font-size="8.4" text-anchor="end" fill="#000" transform="translate(356.8,0) scale(0.9,1) translate(-356.8,0)">
<text x="356.8" y="262.7">1,0</text>
<text x="356.8" y="284.9">0,8</text>
<text x="356.8" y="307.2">0,6</text>
<text x="356.8" y="329.5">0,4</text>
<text x="356.8" y="351.8">0,2</text>
<text x="356.8" y="374">0,0</text>
</g>
<g font-size="8.4" text-anchor="middle" fill="#000">
<text transform="translate(364.2,390.8) scale(0.9,1)">0</text>
<text transform="translate(378.4,390.8) scale(0.9,1)">12</text>
<text transform="translate(392.6,390.8) scale(0.9,1)">24</text>
<text transform="translate(406.8,390.8) scale(0.9,1)">36</text>
<text transform="translate(421.0,390.8) scale(0.9,1)">48</text>
<text transform="translate(435.2,390.8) scale(0.9,1)">60</text>
<text transform="translate(449.4,390.8) scale(0.9,1)">72</text>
<text transform="translate(463.6,390.8) scale(0.9,1)">84</text>
<text transform="translate(477.8,390.8) scale(0.9,1)">96</text>
</g>
<text class="sb" x="368.1" y="404.7" font-size="10" textLength="100" lengthAdjust="spacingAndGlyphs">Time to event [PFS] (months)</text>
<text class="sb" transform="translate(340.6,338.1) rotate(-90)" font-size="9.6" textLength="45.5" lengthAdjust="spacingAndGlyphs">Cum survival</text>
<g font-size="6.5" class="sb2">
<text x="423.8" y="271" fill="#6a3b8c" stroke="#6a3b8c" textLength="47.2" lengthAdjust="spacingAndGlyphs">≥ 75% percentile</text>
<text x="423.8" y="278.3" fill="#3a5897" stroke="#3a5897" textLength="87.5" lengthAdjust="spacingAndGlyphs">≥ median and &lt; 75% percentile</text>
<text x="423.8" y="285.9" fill="#c01e4a" stroke="#c01e4a" textLength="87" lengthAdjust="spacingAndGlyphs">≥ 25% percentile and &lt; median</text>
<text x="423.8" y="292.9" fill="#3a7a58" stroke="#3a7a58" textLength="47.7" lengthAdjust="spacingAndGlyphs">&lt; 25% percentile</text>
</g>
<g fill="none" stroke-width="1.2" stroke-linejoin="miter">
<polyline stroke="#2f6e50" points="364.00,260.00 365.20,260.00 365.20,261.60 366.40,261.60 366.40,263.20 367.60,263.20 367.60,264.80 368.80,264.80 368.80,266.40 370.00,266.40 370.00,268.00 370.80,268.00 370.80,269.48 371.60,269.48 371.60,270.96 372.40,270.96 372.40,272.44 373.20,272.44 373.20,273.92 374.00,273.92 374.00,275.40 374.60,275.40 374.60,276.72 375.20,276.72 375.20,278.04 375.80,278.04 375.80,279.36 376.40,279.36 376.40,280.68 377.00,280.68 377.00,282.00 378.00,282.00 378.00,282.60 379.00,282.60 379.00,283.20 379.50,283.20 379.50,284.57 380.00,284.57 380.00,285.95 380.50,285.95 380.50,287.32 381.00,287.32 381.00,288.70 381.60,288.70 381.60,289.90 382.20,289.90 382.20,291.10 382.80,291.10 382.80,292.30 383.40,292.30 383.40,293.50 384.00,293.50 384.00,294.70 384.60,294.70 384.60,295.90 385.20,295.90 385.20,297.10 385.80,297.10 385.80,298.30 387.15,298.30 387.15,299.90 388.50,299.90 388.50,301.50 389.85,301.50 389.85,302.25 391.20,302.25 391.20,303.00 392.00,303.00 392.00,304.00 393.30,304.00 393.30,304.90 394.60,304.90 394.60,305.80 395.90,305.80 395.90,306.70 396.87,306.70 396.87,307.90 397.83,307.90 397.83,309.10 398.80,309.10 398.80,310.30 399.55,310.30 399.55,311.73 400.30,311.73 400.30,313.15 401.05,313.15 401.05,314.57 401.80,314.57 401.80,316.00 402.20,316.00 402.20,317.40 402.60,317.40 402.60,318.80 403.00,318.80 403.00,320.20 403.90,320.20 403.90,321.70 404.80,321.70 404.80,323.20 406.30,323.20 406.30,323.80 407.80,323.80 407.80,324.40 409.30,324.40 409.30,325.95 410.80,325.95 410.80,327.50 412.30,327.50 412.30,328.70 413.80,328.70 413.80,329.90 415.30,329.90 415.30,331.40 416.80,331.40 416.80,332.90 418.00,332.90 418.00,333.50 419.20,333.50 419.20,334.10 420.40,334.10 420.40,334.70 421.60,334.70 421.60,335.10 422.80,335.10 422.80,335.50 424.00,335.50 424.00,335.90 425.50,335.90 425.50,336.80 427.00,336.80 427.00,337.70 428.50,337.70 428.50,339.20 430.00,339.20 430.00,340.70 431.20,340.70 431.20,342.20 432.40,342.20 432.40,343.70 433.90,343.70 433.90,344.60 435.40,344.60 435.40,345.50 436.60,345.50 436.60,346.30 437.80,346.30 437.80,347.10 439.00,347.10 439.00,347.90 440.20,347.90 440.20,349.40 441.40,349.40 441.40,350.90 442.45,350.90 442.45,351.20 443.50,351.20 443.50,351.50 444.05,351.50 444.05,352.50 444.60,352.50 444.60,353.50 445.40,353.50 445.40,354.60 446.95,354.60 446.95,354.80 448.50,354.80 448.50,355.00 450.00,355.00 450.00,356.50 462.30,356.50 463.50,356.50 463.50,357.70 463.65,357.70 463.65,359.25 463.80,359.25 463.80,360.80 464.80,360.80 464.80,361.35 465.80,361.35 465.80,361.90"/>
<polyline stroke="#c0163f" points="364.00,260.00 365.20,260.00 365.20,261.60 366.40,261.60 366.40,263.20 367.60,263.20 367.60,264.80 368.80,264.80 368.80,266.40 370.00,266.40 370.00,268.00 371.33,268.00 371.33,269.33 372.67,269.33 372.67,270.67 374.00,270.67 374.00,272.00 375.33,272.00 375.33,273.53 376.67,273.53 376.67,275.07 378.00,275.07 378.00,276.60 379.00,276.60 379.00,278.07 380.00,278.07 380.00,279.53 381.00,279.53 381.00,281.00 381.40,281.00 381.40,282.33 381.80,282.33 381.80,283.67 382.20,283.67 382.20,285.00 383.25,285.00 383.25,286.10 384.30,286.10 384.30,287.20 385.77,287.20 385.77,287.93 387.23,287.93 387.23,288.67 388.70,288.67 388.70,289.40 389.40,289.40 389.40,290.60 390.10,290.60 390.10,291.80 390.80,291.80 390.80,293.00 392.00,293.00 392.00,294.43 393.20,294.43 393.20,295.87 394.40,295.87 394.40,297.30 395.12,297.30 395.12,298.57 395.85,298.57 395.85,299.85 396.57,299.85 396.57,301.12 397.30,301.12 397.30,302.40 398.65,302.40 398.65,303.20 400.00,303.20 400.00,304.00 401.20,304.00 401.20,305.50 402.40,305.50 402.40,307.00 403.20,307.00 403.20,308.20 404.00,308.20 404.00,309.40 404.80,309.40 404.80,310.60 405.60,310.60 405.60,311.80 406.40,311.80 406.40,313.00 407.20,313.00 407.20,314.20 408.40,314.20 408.40,315.40 409.60,315.40 409.60,316.60 410.80,316.60 410.80,317.80 412.00,317.80 412.00,319.00 413.20,319.00 413.20,320.20 414.40,320.20 414.40,321.20 415.60,321.20 415.60,322.20 416.80,322.20 416.80,323.20 418.20,323.20 418.20,323.60 419.60,323.60 419.60,324.00 421.00,324.00 421.00,324.40 422.40,324.40 422.40,325.23 423.80,325.23 423.80,326.07 425.20,326.07 425.20,326.90 426.40,326.90 426.40,327.35 427.60,327.35 427.60,327.80 428.80,327.80 428.80,328.25 430.00,328.25 430.00,328.70 431.20,328.70 431.20,328.75 432.40,328.75 432.40,328.80 433.60,328.80 433.60,328.85 434.80,328.85 434.80,328.90 435.10,328.90 435.10,329.95 435.40,329.95 435.40,331.00 436.00,331.00 436.00,332.20 436.60,332.20 436.60,333.40 438.00,333.40 438.00,334.07 439.40,334.07 439.40,334.73 440.80,334.73 440.80,335.40 442.30,335.40 442.30,336.20 449.20,336.20 450.73,336.20 450.73,336.70 452.27,336.70 452.27,337.20 453.80,337.20 453.80,337.70 455.15,337.70 455.15,339.05 456.50,339.05 456.50,340.40 457.95,340.40 457.95,340.45 459.40,340.45 459.40,340.50 460.85,340.50 460.85,340.55 462.30,340.55 462.30,340.60 462.30,352.70 470.40,352.70"/>
<polyline stroke="#3c5a9c" points="364.00,260.00 365.40,260.00 365.40,261.30 366.80,261.30 366.80,262.60 368.20,262.60 368.20,263.90 369.60,263.90 369.60,265.20 371.00,265.20 371.00,266.50 372.33,266.50 372.33,267.47 373.67,267.47 373.67,268.43 375.00,268.43 375.00,269.40 378.60,269.40 380.00,269.40 380.00,270.60 381.40,270.60 381.40,271.80 382.80,271.80 382.80,273.00 383.20,273.00 383.20,274.33 383.60,274.33 383.60,275.67 384.00,275.67 384.00,277.00 385.00,277.00 385.00,278.27 386.00,278.27 386.00,279.53 387.00,279.53 387.00,280.80 388.40,280.80 388.40,282.00 389.80,282.00 389.80,283.20 391.20,283.20 391.20,284.40 391.80,284.40 391.80,285.83 392.40,285.83 392.40,287.27 393.00,287.27 393.00,288.70 393.90,288.70 393.90,290.12 394.80,290.12 394.80,291.55 395.70,291.55 395.70,292.97 396.60,292.97 396.60,294.40 397.80,294.40 397.80,295.15 399.00,295.15 399.00,295.90 400.53,295.90 400.53,297.10 402.07,297.10 402.07,298.30 403.60,298.30 403.60,299.50 404.80,299.50 404.80,301.00 406.00,301.00 406.00,302.50 407.20,302.50 407.20,304.00 408.70,304.00 408.70,304.90 410.20,304.90 410.20,305.80 411.20,305.80 411.20,307.00 412.20,307.00 412.20,308.20 413.20,308.20 413.20,309.40 414.40,309.40 414.40,310.30 415.60,310.30 415.60,311.20 417.10,311.20 417.10,312.40 418.60,312.40 418.60,313.60 419.80,313.60 419.80,314.60 421.00,314.60 421.00,315.60 422.20,315.60 422.20,316.60 423.60,316.60 423.60,318.00 425.00,318.00 425.00,319.40 426.40,319.40 426.40,320.80 427.60,320.80 427.60,322.00 428.80,322.00 428.80,323.20 430.00,323.20 430.00,324.40 431.20,324.40 431.20,324.70 432.40,324.70 432.40,325.00 433.90,325.00 433.90,325.90 435.40,325.90 435.40,326.80 436.90,326.80 436.90,328.30 438.40,328.30 438.40,329.80 439.60,329.80 439.60,331.10 440.80,331.10 440.80,332.40 442.30,332.40 442.30,333.30 443.80,333.30 443.80,334.20 444.80,334.20 444.80,335.35 445.80,335.35 445.80,336.50 446.75,336.50 446.75,337.10 447.70,337.10 447.70,337.70 449.20,337.70 449.20,338.80 475.00,338.80"/>
<polyline stroke="#5e2e82" points="364.00,260.00 365.48,260.00 365.48,261.40 366.96,261.40 366.96,262.80 368.44,262.80 368.44,264.20 369.92,264.20 369.92,265.60 371.40,265.60 371.40,267.00 372.15,267.00 372.15,268.20 372.90,268.20 372.90,269.40 373.65,269.40 373.65,270.60 374.40,270.60 374.40,271.80 375.60,271.80 375.60,272.87 376.80,272.87 376.80,273.93 378.00,273.93 378.00,275.00 379.50,275.00 379.50,276.50 381.00,276.50 381.00,278.00 381.90,278.00 381.90,279.60 382.80,279.60 382.80,281.20 383.70,281.20 383.70,282.80 384.60,282.80 384.60,284.40 386.20,284.40 386.20,285.43 387.80,285.43 387.80,286.47 389.40,286.47 389.40,287.50 390.45,287.50 390.45,288.80 391.50,288.80 391.50,290.10 392.97,290.10 392.97,291.53 394.43,291.53 394.43,292.97 395.90,292.97 395.90,294.40 397.17,294.40 397.17,295.10 398.43,295.10 398.43,295.80 399.70,295.80 399.70,296.50 400.75,296.50 400.75,297.25 401.80,297.25 401.80,298.00 402.20,298.00 402.20,299.20 402.60,299.20 402.60,300.40 403.00,300.40 403.00,301.60 403.90,301.60 403.90,302.50 404.80,302.50 404.80,303.40 406.00,303.40 406.00,304.90 407.20,304.90 407.20,306.40 408.70,306.40 408.70,307.90 410.20,307.90 410.20,309.40 411.20,309.40 411.20,310.60 412.20,310.60 412.20,311.80 413.20,311.80 413.20,313.00 414.40,313.00 414.40,314.50 415.60,314.50 415.60,316.00 416.80,316.00 416.80,316.40 418.00,316.40 418.00,316.80 419.20,316.80 419.20,317.20 420.60,317.20 420.60,317.60 422.00,317.60 422.00,318.00 423.40,318.00 423.40,318.40 424.90,318.40 424.90,319.90 426.40,319.90 426.40,321.40 427.60,321.40 427.60,321.55 428.80,321.55 428.80,321.70 430.00,321.70 430.00,321.85 431.20,321.85 431.20,322.00 432.43,322.00 432.43,322.40 433.67,322.40 433.67,322.80 434.90,322.80 434.90,323.20 436.47,323.20 436.47,323.80 438.03,323.80 438.03,324.40 439.60,324.40 439.60,325.00 441.00,325.00 441.00,325.13 442.40,325.13 442.40,325.27 443.80,325.27 443.80,325.40 445.35,325.40 445.35,326.55 446.90,326.55 446.90,327.70 448.05,327.70 448.05,328.85 449.20,328.85 449.20,330.00 449.80,330.00 449.80,331.35 450.40,331.35 450.40,332.70 450.53,332.70 450.53,333.80 450.67,333.80 450.67,334.90 450.80,334.90 450.80,336.00 475.00,336.00"/>
</g>
<g stroke-width="1">
<line stroke="#5e2e82" x1="453.8" y1="334.6" x2="453.8" y2="337.4"/><line stroke="#5e2e82" x1="458.8" y1="334.6" x2="458.8" y2="337.4"/><line stroke="#5e2e82" x1="460" y1="334.6" x2="460" y2="337.4"/><line stroke="#5e2e82" x1="463.1" y1="334.6" x2="463.1" y2="337.4"/><line stroke="#5e2e82" x1="467.3" y1="334.6" x2="467.3" y2="337.4"/><line stroke="#5e2e82" x1="468.8" y1="334.6" x2="468.8" y2="337.4"/><line stroke="#5e2e82" x1="470.8" y1="334.6" x2="470.8" y2="337.4"/><line stroke="#5e2e82" x1="472.7" y1="334.6" x2="472.7" y2="337.4"/><line stroke="#5e2e82" x1="474.6" y1="334.6" x2="474.6" y2="337.4"/><line stroke="#5e2e82" x1="443.8" y1="324.0" x2="443.8" y2="326.79999999999995"/><line stroke="#5e2e82" x1="446.2" y1="325.6" x2="446.2" y2="328.4"/>
<line stroke="#3c5a9c" x1="449.2" y1="337.40000000000003" x2="449.2" y2="340.2"/><line stroke="#3c5a9c" x1="455.4" y1="337.40000000000003" x2="455.4" y2="340.2"/><line stroke="#3c5a9c" x1="458.5" y1="337.40000000000003" x2="458.5" y2="340.2"/><line stroke="#3c5a9c" x1="460" y1="337.40000000000003" x2="460" y2="340.2"/><line stroke="#3c5a9c" x1="461.5" y1="337.40000000000003" x2="461.5" y2="340.2"/><line stroke="#3c5a9c" x1="468" y1="337.40000000000003" x2="468" y2="340.2"/><line stroke="#3c5a9c" x1="474.2" y1="337.40000000000003" x2="474.2" y2="340.2"/><line stroke="#3c5a9c" x1="441.5" y1="331.6" x2="441.5" y2="334.4"/>
<line stroke="#c0163f" x1="449.2" y1="334.8" x2="449.2" y2="337.59999999999997"/><line stroke="#c0163f" x1="441" y1="334.20000000000005" x2="441" y2="337.0"/><line stroke="#c0163f" x1="458" y1="339.0" x2="458" y2="341.79999999999995"/><line stroke="#c0163f" x1="460.5" y1="339.0" x2="460.5" y2="341.79999999999995"/>
<line stroke="#2f6e50" x1="451.4" y1="355.1" x2="451.4" y2="357.9"/><line stroke="#2f6e50" x1="455.4" y1="355.1" x2="455.4" y2="357.9"/><line stroke="#2f6e50" x1="461.9" y1="355.1" x2="461.9" y2="357.9"/><line stroke="#2f6e50" x1="444.3" y1="351.6" x2="444.3" y2="354.4"/><line stroke="#2f6e50" x1="466" y1="360.6" x2="466" y2="363.4"/>
</g>
<circle cx="470.4" cy="352.7" r="1.5" fill="#c0163f"/>
</g>
</svg>
</body></html>
